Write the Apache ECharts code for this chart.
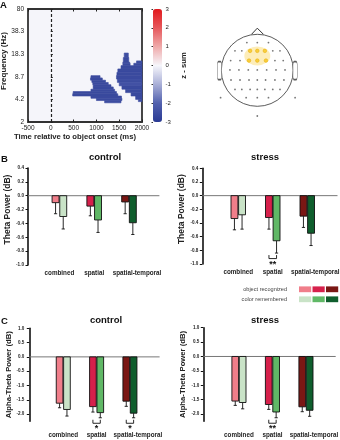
<!DOCTYPE html>
<html>
<head>
<meta charset="utf-8">
<script src="https://cdn.jsdelivr.net/npm/echarts@6/dist/echarts.min.js"></script>
<style>
html,body{margin:0;padding:0;background:#fff}
#chart{width:340px;height:440px}
</style>
</head>
<body>
<div id="chart"></div>
<script>
// ---- panel A: time-frequency cluster (rows: [freqLo, freqHi, tStart, tEnd, zsum])
let timeTicks = [-500, 0, 500, 1000, 1500, 2000];
let freqTicks = [2, 4.2, 8.7, 18.3, 38.3, 80];
let zTicks = [-3, -2, -1, 0, 1, 2, 3];
let lowCluster = [
    [8.43, 9.08, 880, 1080, -2.6],
    [7.83, 8.43, 870, 1130, -2.6],
    [7.27, 7.83, 900, 1200, -2.6],
    [6.76, 7.27, 920, 1260, -2.6],
    [6.28, 6.76, 930, 1320, -2.6],
    [5.83, 6.28, 930, 1370, -2.6],
    [5.41, 5.83, 880, 1400, -2.6],
    [5.03, 5.41, 490, 1440, -2.6],
    [4.67, 5.03, 480, 1470, -2.6],
    [4.34, 4.67, 880, 1550, -2.6],
    [4.03, 4.34, 1000, 1560, -2.6],
    [3.74, 4.03, 1180, 1540, -2.5]
];
let highCluster = [
    [16.4, 19.0, 1610, 1700, -2.5],
    [14.1, 16.4, 1590, 1710, -2.6],
    [13.6, 14.1, 1580, 1730, -2.6],
    [13.6, 14.7, 1880, 2000, -2.5],
    [12.6, 13.6, 1580, 1740, -2.6],
    [12.6, 13.6, 1820, 2000, -2.6],
    [11.3, 12.6, 1540, 2000, -2.6],
    [10.1, 11.3, 1470, 2000, -2.6],
    [9.08, 10.1, 1450, 2000, -2.6],
    [8.13, 9.08, 1440, 2000, -2.6],
    [7.27, 8.13, 1460, 2000, -2.5],
    [6.51, 7.27, 1500, 2000, -2.4],
    [5.83, 6.51, 1560, 2000, -2.6],
    [5.22, 5.83, 1640, 2000, -2.6],
    [4.67, 5.22, 1760, 2000, -2.6],
    [4.18, 4.67, 1860, 2000, -2.6],
    [3.89, 4.18, 1920, 2000, -2.5]
];

// ---- head map (unit = head radius)
let electrodes = [
    [-0.29, 0.77], [0, 0.77], [0.31, 0.77],
    [-0.62, 0.54], [-0.43, 0.54], [0.43, 0.54], [0.63, 0.54],
    [-0.74, 0.27], [-0.48, 0.27], [0.49, 0.27], [0.72, 0.27],
    [-0.76, 0.01], [-0.51, 0.01], [-0.25, 0.01], [0, 0.01], [0.26, 0.01], [0.52, 0.01], [0.77, 0.01],
    [-0.73, -0.27], [-0.48, -0.27], [-0.23, -0.27], [0, -0.27], [0.23, -0.27], [0.49, -0.27], [0.74, -0.27],
    [-0.62, -0.53], [-0.43, -0.53], [-0.2, -0.53], [0, -0.53], [0.21, -0.53], [0.43, -0.53], [0.63, -0.53],
    [-1.02, -0.76], [-0.31, -0.76], [0, -0.76], [0.31, -0.76], [1.05, -0.76],
    [0, -1.27]
];
let selectedElectrodes = [[-0.2, 0.54], [0, 0.54], [0.21, 0.54], [-0.23, 0.27], [0, 0.27], [0.24, 0.27]];
let noseLine = [[-0.16, 1.0], [0, 1.17], [0.17, 1.0]];
let ears = [[-1.05, -0.01], [1.05, -0.01]];

// ---- panels B and C
let categories = ['combined', 'spatial', 'spatial-temporal'];
let recColors = ['#f07e8a', '#d6204b', '#7a1714'];
let colColors = ['#c9e3c7', '#60b866', '#0f5e2d'];

let thetaTicks = [-1.0, -0.8, -0.6, -0.4, -0.2, 0.0, 0.2, 0.4];
let alphaTicks = [-2.0, -1.5, -1.0, -0.5, 0.0, 0.5, 1.0];

let thetaCtrlRec = [-0.10, -0.15, -0.09];
let thetaCtrlRecErr = [0.16, 0.14, 0.17];
let thetaCtrlCol = [-0.30, -0.35, -0.39];
let thetaCtrlColErr = [0.18, 0.18, 0.17];
let thetaCtrlSig = ['', '', ''];

let thetaStrRec = [-0.335, -0.32, -0.30];
let thetaStrRecErr = [0.165, 0.17, 0.165];
let thetaStrCol = [-0.28, -0.66, -0.55];
let thetaStrColErr = [0.21, 0.18, 0.18];
let thetaStrSig = ['', '**', ''];

let alphaCtrlRec = [-1.62, -1.74, -1.55];
let alphaCtrlRecErr = [0.16, 0.19, 0.18];
let alphaCtrlCol = [-1.84, -1.95, -1.97];
let alphaCtrlColErr = [0.23, 0.18, 0.16];
let alphaCtrlSig = ['', '*', '*'];

let alphaStrRec = [-1.55, -1.67, -1.75];
let alphaStrRecErr = [0.15, 0.17, 0.17];
let alphaStrCol = [-1.60, -1.93, -1.87];
let alphaStrColErr = [0.22, 0.20, 0.21];
let alphaStrSig = ['', '**', ''];

const FONT = 'Liberation Sans, Arial, sans-serif';
let myChart = echarts.init(document.getElementById('chart'));

// 柱状图面板
let panels = [
    {grid: {left: 42, top: 168, width: 104.4, height: 97}, min: -1.0, max: 0.4, ticks: thetaTicks,
        offset: 14, name: 'Theta Power (dB)', nameSize: 8.5, nameGap: 12.5, namePad: 14, labelMargin: 4, catMargin: 5,
        rec: thetaCtrlRec, recErr: thetaCtrlRecErr, col: thetaCtrlCol, colErr: thetaCtrlColErr, sig: thetaCtrlSig},
    {grid: {left: 221, top: 168.3, width: 103.5, height: 95.7}, min: -1.0, max: 0.4, ticks: thetaTicks,
        offset: 18.7, name: 'Theta Power (dB)', nameSize: 8.5, nameGap: 14.5, namePad: 14, labelMargin: 4, catMargin: 5,
        rec: thetaStrRec, recErr: thetaStrRecErr, col: thetaStrCol, colErr: thetaStrColErr, sig: thetaStrSig},
    {grid: {left: 46.6, top: 328.3, width: 100, height: 92.9}, min: -2.25, max: 1.0, ticks: alphaTicks,
        offset: 17.3, name: 'Alpha-Theta Power (dB)', nameSize: 7.7, nameGap: 16, namePad: 0, labelMargin: 5, catMargin: 11,
        rec: alphaCtrlRec, recErr: alphaCtrlRecErr, col: alphaCtrlCol, colErr: alphaCtrlColErr, sig: alphaCtrlSig},
    {grid: {left: 222.2, top: 327.7, width: 100.5, height: 93.5}, min: -2.25, max: 1.0, ticks: alphaTicks,
        offset: 18.9, name: 'Alpha-Theta Power (dB)', nameSize: 7.7, nameGap: 16, namePad: 0, labelMargin: 4, catMargin: 11,
        rec: alphaStrRec, recErr: alphaStrRecErr, col: alphaStrCol, colErr: alphaStrColErr, sig: alphaStrSig}
];

let grids = [
    {left: 28, top: 9, width: 114, height: 113, show: true, borderColor: '#333', borderWidth: 1.8, backgroundColor: '#f5f5fa'},
    {left: 153, top: 9, width: 9, height: 113},
    {left: 203.3, top: 16.3, width: 108, height: 108}
];
let xAxes = [
    {gridIndex: 0, type: 'value', min: -500, max: 2000, interval: 500,
        axisLine: {show: false}, splitLine: {show: false},
        axisTick: {inside: true, length: 2.5, lineStyle: {color: '#222', width: 1}},
        axisLabel: {fontSize: 6.5, color: '#222', margin: 2.5, showMinLabel: true, showMaxLabel: true,
            customValues: timeTicks, formatter: function (v) { return String(v); }},
        name: 'Time relative to object onset (ms)', nameLocation: 'middle', nameGap: 11,
        nameTextStyle: {fontSize: 7.7, fontWeight: 'bold', color: '#222', padding: [0, 20, 0, 0]}},
    {gridIndex: 0, type: 'value', position: 'top', min: -500, max: 2000, interval: 500,
        axisLine: {show: false}, splitLine: {show: false}, axisLabel: {show: false},
        axisTick: {inside: true, length: 2.5, lineStyle: {color: '#222', width: 1}}},
    {gridIndex: 1, type: 'value', show: false, min: 0, max: 1},
    {gridIndex: 2, type: 'value', show: false, min: -1.5, max: 1.5}
];
let yAxes = [
    {gridIndex: 0, type: 'log', min: 2, max: 80,
        axisLine: {show: false}, splitLine: {show: false},
        axisTick: {inside: true, length: 2, customValues: freqTicks, lineStyle: {color: '#222'}},
        axisLabel: {fontSize: 6.5, color: '#222', margin: 4, customValues: freqTicks,
            formatter: function (v) { return String(Number(Number(v).toPrecision(3))); }},
        name: 'Frequency (Hz)', nameLocation: 'middle', nameGap: 17,
        nameTextStyle: {fontSize: 8, fontWeight: 'bold', color: '#222', padding: [0, 0, 0, 9]}},
    {gridIndex: 1, type: 'value', position: 'right', min: -3, max: 3, interval: 1,
        axisLine: {show: false}, splitLine: {show: false},
        axisTick: {inside: true, length: 1.5, lineStyle: {color: '#333'}},
        axisLabel: {fontSize: 6, color: '#222', margin: 3.5, customValues: zTicks},
        name: 'z - sum', nameLocation: 'middle', nameGap: 18, nameRotate: 90,
        nameTextStyle: {fontSize: 7.7, fontWeight: 'bold', color: '#222'}},
    {gridIndex: 2, type: 'value', show: false, min: -1.5, max: 1.5}
];

let series = [];

// A: cluster map
series.push({
    type: 'custom', xAxisIndex: 0, yAxisIndex: 0,
    data: lowCluster.concat(highCluster),
    encode: {x: [2, 3], y: [0, 1]},
    renderItem: function (params, api) {
        let p1 = api.coord([api.value(2), api.value(1)]);
        let p2 = api.coord([api.value(3), api.value(0)]);
        let c = api.visual('color');
        return {type: 'rect', shape: {x: p1[0], y: p1[1], width: p2[0] - p1[0], height: p2[1] - p1[1]},
            style: {fill: c, stroke: c, lineWidth: 0.6}};
    },
    markLine: {silent: true, symbol: ['none', 'none'], label: {show: false},
        lineStyle: {type: [3, 2], color: '#222', width: 1.2}, data: [{xAxis: 0}]}
});

// head map
series.push({type: 'scatter', xAxisIndex: 3, yAxisIndex: 2, clip: false, silent: true, z: 2,
    data: [[0, 0]], symbol: 'circle', symbolSize: 72,
    itemStyle: {color: 'rgba(0,0,0,0)', borderColor: '#333', borderWidth: 1}});
series.push({type: 'scatter', xAxisIndex: 3, yAxisIndex: 2, clip: false, silent: true, z: 2,
    data: ears, symbol: 'roundRect', symbolSize: [4.4, 18],
    itemStyle: {color: '#fff', borderColor: '#333', borderWidth: 0.9}});
series.push({type: 'line', xAxisIndex: 3, yAxisIndex: 2, silent: true, z: 2,
    data: noseLine, symbol: 'none', lineStyle: {color: '#333', width: 1}});
series.push({type: 'scatter', xAxisIndex: 3, yAxisIndex: 2, clip: false, silent: true, z: 3,
    data: [[0, 0.4]], symbol: 'circle', symbolSize: [26, 19], itemStyle: {color: '#fde8a8'}});
series.push({type: 'scatter', xAxisIndex: 3, yAxisIndex: 2, clip: false, silent: true, z: 4,
    data: electrodes, symbol: 'circle', symbolSize: 1.8, itemStyle: {color: '#555'}});
series.push({type: 'scatter', xAxisIndex: 3, yAxisIndex: 2, clip: false, silent: true, z: 4,
    data: selectedElectrodes, symbol: 'circle', symbolSize: 3.6,
    itemStyle: {color: '#f7c61a', borderColor: '#e3a900', borderWidth: 0.6}});

panels.forEach(function (p, k) {
    let gi = grids.length;
    let ax = xAxes.length;
    let ay = yAxes.length;
    grids.push(Object.assign({}, p.grid));
    xAxes.push({gridIndex: gi, type: 'category', data: categories,
        axisLine: {show: false}, axisTick: {show: false},
        axisLabel: {fontSize: 6.3, fontWeight: 'bold', color: '#222', margin: p.catMargin, interval: 0,
            formatter: function (v) { return v === 'spatial-temporal' ? '{st|' + v + '}' : v; },
            rich: {st: {fontSize: 6.3, fontWeight: 'bold', color: '#222', padding: [0, 0, 0, 16]}}}});
    yAxes.push({gridIndex: gi, type: 'value', min: p.min, max: p.max, offset: p.offset,
        splitLine: {show: false},
        axisLine: {show: true, onZero: false, lineStyle: {color: '#111', width: 1.6}},
        axisTick: {show: true, length: 2.5, customValues: p.ticks, lineStyle: {color: '#111', width: 1}},
        axisLabel: {fontSize: 4.6, fontWeight: 'bold', color: '#222', margin: p.labelMargin, customValues: p.ticks,
            formatter: function (v) { return Number(v).toFixed(1); }},
        name: p.name, nameLocation: 'middle', nameGap: p.nameGap,
        nameTextStyle: {fontSize: p.nameSize, fontWeight: 'bold', color: '#222', padding: [0, 0, 0, p.namePad]}});

    // 零线
    series.push({type: 'custom', xAxisIndex: ax, yAxisIndex: ay, silent: true, z: 1,
        data: [[0, 0]], encode: {x: 0, y: 1},
        renderItem: function (params, api) {
            let cs = params.coordSys;
            let y = api.coord([0, 0])[1];
            return {type: 'line', shape: {x1: cs.x - p.offset, y1: y, x2: cs.x + cs.width + 13, y2: y},
                style: {stroke: '#777', lineWidth: 1}};
        }});

    let data = [];
    for (let i = 0; i < categories.length; i++) {
        data.push([i, 0, p.rec[i], p.recErr[i]]);
        data.push([i, 1, p.col[i], p.colErr[i]]);
    }
    series.push({type: 'custom', xAxisIndex: ax, yAxisIndex: ay, silent: true, z: 3,
        data: data, encode: {x: 0, y: 2},
        renderItem: function (params, api) {
            let ci = api.value(0), s = api.value(1), v = api.value(2), e = api.value(3);
            let band = api.size([1, 0])[0];
            let w = band * 0.2, gap = 0.35;
            let c = api.coord([ci, 0]);
            let x0 = s === 0 ? c[0] - gap - w : c[0] + gap;
            let yb = api.coord([ci, v])[1];
            let ye = api.coord([ci, v - e])[1];
            let xm = x0 + w / 2;
            let color = (s === 0 ? recColors : colColors)[ci];
            return {type: 'group', children: [
                {type: 'line', shape: {x1: xm, y1: yb, x2: xm, y2: ye}, style: {stroke: '#111', lineWidth: 0.9}},
                {type: 'line', shape: {x1: xm - 1.6, y1: ye, x2: xm + 1.6, y2: ye}, style: {stroke: '#111', lineWidth: 0.9}},
                {type: 'rect', shape: {x: x0, y: c[1], width: w, height: yb - c[1]},
                    style: {fill: color, stroke: '#111', lineWidth: 0.9}}
            ]};
        }});

    let sigData = [];
    for (let i = 0; i < categories.length; i++) {
        if (p.sig[i]) {
            sigData.push([i, Math.min(p.rec[i] - p.recErr[i], p.col[i] - p.colErr[i])]);
        }
    }
    series.push({type: 'custom', xAxisIndex: ax, yAxisIndex: ay, silent: true, z: 3,
        data: sigData, encode: {x: 0, y: 1},
        renderItem: function (params, api) {
            let ci = api.value(0);
            let c = api.coord([ci, api.value(1)]);
            let band = api.size([1, 0])[0];
            let w = band * 0.2, gap = 0.35;
            let xr = c[0] - gap - w / 2, xg = c[0] + gap + w / 2;
            let y0 = c[1] + 2, y1 = c[1] + 5.5;
            return {type: 'group', children: [
                {type: 'polyline', shape: {points: [[xr, y0], [xr, y1], [xg, y1], [xg, y0]]},
                    style: {stroke: '#111', lineWidth: 0.9, fill: null}},
                {type: 'text', x: c[0], y: c[1] + 11,
                    style: {text: p.sig[ci], fontSize: 9, fontWeight: 'bold', fontFamily: FONT, fill: '#111',
                        align: 'center', verticalAlign: 'middle', textAlign: 'center', textVerticalAlign: 'middle'}}
            ]};
        }});
});

grids.forEach(function (g) { g.outerBoundsMode = 'none'; g.containLabel = false; });

let titleStyle = {fontSize: 9.5, fontWeight: 'bold', color: '#111', fontFamily: FONT};
let legendGraphic = [];
[['object recognized', recColors, 289.3], ['color remembered', colColors, 299.3]].forEach(function (row) {
    legendGraphic.push({type: 'text', x: 287, y: row[2],
        style: {text: row[0], fontSize: 5.6, fontFamily: FONT, fill: '#444',
            align: 'right', verticalAlign: 'middle', textAlign: 'right', textVerticalAlign: 'middle'}});
    row[1].forEach(function (c, i) {
        legendGraphic.push({type: 'rect', shape: {x: 299 + i * 13.5, y: row[2] - 2.9, width: 12.2, height: 5.8},
            style: {fill: c}});
    });
});

let option = {
    animation: false,
    textStyle: {fontFamily: FONT},
    title: [
        {text: 'A', left: 0, top: 0.5, padding: 0, textStyle: titleStyle},
        {text: 'B', left: 1, top: 154, padding: 0, textStyle: titleStyle},
        {text: 'C', left: 1, top: 316, padding: 0, textStyle: titleStyle},
        {text: 'control', left: 105, top: 152, padding: 0, textAlign: 'center', textStyle: titleStyle},
        {text: 'stress', left: 265, top: 152, padding: 0, textAlign: 'center', textStyle: titleStyle},
        {text: 'control', left: 106, top: 315.5, padding: 0, textAlign: 'center', textStyle: titleStyle},
        {text: 'stress', left: 265, top: 315.5, padding: 0, textAlign: 'center', textStyle: titleStyle}
    ],
    grid: grids,
    xAxis: xAxes,
    yAxis: yAxes,
    visualMap: {
        type: 'continuous', min: -3, max: 3, dimension: 4, seriesIndex: 0,
        left: 153, top: 9, itemWidth: 9, itemHeight: 113, padding: 0,
        calculable: false, hoverLink: false, showLabel: false, text: null,
        inRange: {color: ['#2a3a94', '#5261ae', '#a9afd7', '#f6f6fb', '#efaaaa', '#e6585b', '#e2191d']}
    },
    graphic: legendGraphic,
    series: series
};
myChart.setOption(option);
</script>
</body>
</html>
